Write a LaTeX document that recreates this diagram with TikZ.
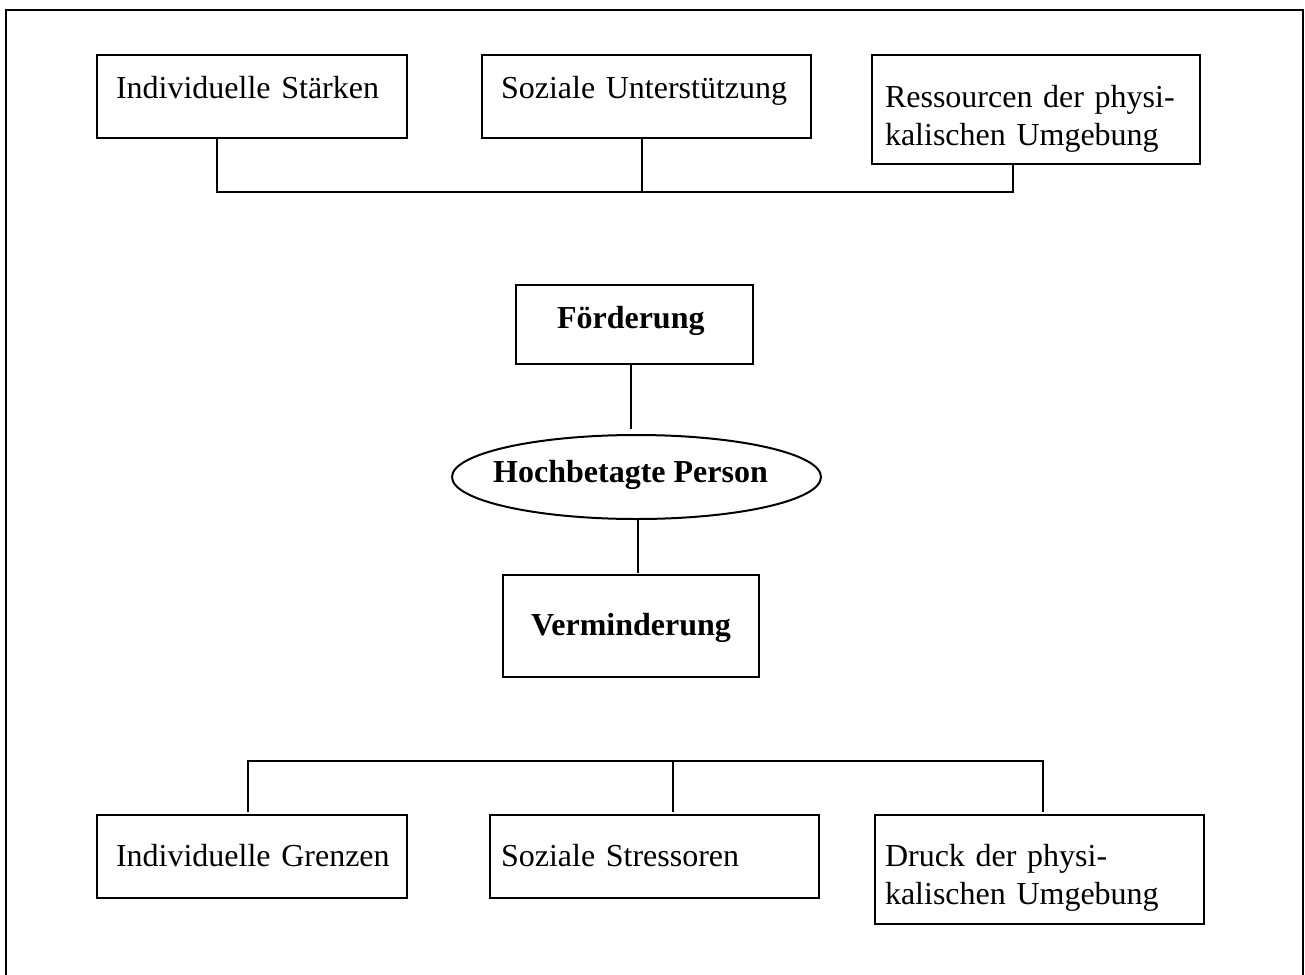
\documentclass[tikz,border=0pt]{standalone}
\usepackage{fontspec}
\setmainfont{Liberation Serif}
\usetikzlibrary{shapes.geometric}
\tikzset{
  bx/.style={draw, line width=1pt, rectangle, inner ysep=0pt, anchor=north west,
    align=left, outer sep=0pt, font=\fontsize{16pt}{19pt}\selectfont},
  bbx/.style={bx, font=\fontsize{16pt}{19pt}\selectfont\bfseries},
  conn/.style={line width=1pt},
}
\begin{document}
\begin{tikzpicture}[x=0.5pt,y=-0.5pt]
\useasboundingbox (0,0) rectangle (1305,974);
% outer frame
\draw[line width=1.15pt] (6,990) -- (6,10) -- (1303,10) -- (1303,990);
% top boxes
\node[bx, text width=136pt, inner xsep=9.5pt, text height=21.5pt, text depth=20pt] (b1) at (97,55) {\mbox{Individuelle Stärken}};
\node[bx, text width=145.5pt, inner xsep=9.5pt, text height=21.5pt, text depth=20pt] (b2) at (482,55) {\mbox{Soziale Unterstützung}};
\node[bx, text width=151pt, inner xsep=6.5pt, text height=26pt, text depth=28.5pt] (b3) at (872,55) {\mbox{Ressourcen der physi-}\\\mbox{kalischen Umgebung}};
% center
\node[bbx, text width=77.5pt, inner xsep=20.5pt, text height=21.5pt, text depth=18pt] (f) at (516,285) {\mbox{Förderung}};
\node[draw, ellipse, line width=1pt, minimum width=184.5pt, minimum height=42pt, inner sep=0pt,
  text height=10pt, text depth=5pt, font=\fontsize{16pt}{19pt}\selectfont\bfseries] (e) at (636.5,477) {\makebox[100pt]{Hochbetagte Person}\hspace*{6pt}};
\node[bbx, align=center, text width=128pt, inner xsep=0pt, text height=30pt, text depth=21pt] (v) at (503,575) {\mbox{Verminderung}};
% bottom boxes
\node[bx, text width=136pt, inner xsep=9.5pt, text height=25.5pt, text depth=16pt] (b4) at (97,815) {\mbox{Individuelle Grenzen}};
\node[bx, text width=153.5pt, inner xsep=5.5pt, text height=25.5pt, text depth=16pt] (b5) at (490,815) {\mbox{Soziale Stressoren}};
\node[bx, text width=154.5pt, inner xsep=5pt, text height=25.5pt, text depth=29pt] (b6) at (875,815) {\mbox{Druck der physi-}\\\mbox{kalischen Umgebung}};
% bus coordinates
\coordinate (ta) at (217,192);
\coordinate (tb) at (642,192);
\coordinate (tc) at (1013,192);
\coordinate (fa) at (631,0);
\coordinate (va) at (638,0);
\coordinate (ba) at (248,761);
\coordinate (bb) at (673,761);
\coordinate (bc) at (1043,761);
% connectors
\draw[conn] (b1.south -| ta) -- (ta) -- (tc) -- (b3.south -| tc);
\draw[conn] (b2.south -| tb) -- (tb);
\draw[conn, shorten >=2.5pt] (f.south -| fa) -- (e.north -| fa);
\draw[conn, shorten >=1pt] (e.south -| va) -- (v.north -| va);
\draw[conn, shorten <=1.5pt, shorten >=1.5pt] (b4.north -| ba) -- (ba) -- (bc) -- (b6.north -| bc);
\draw[conn, shorten >=1.5pt] (bb) -- (b5.north -| bb);
\end{tikzpicture}
\end{document}
